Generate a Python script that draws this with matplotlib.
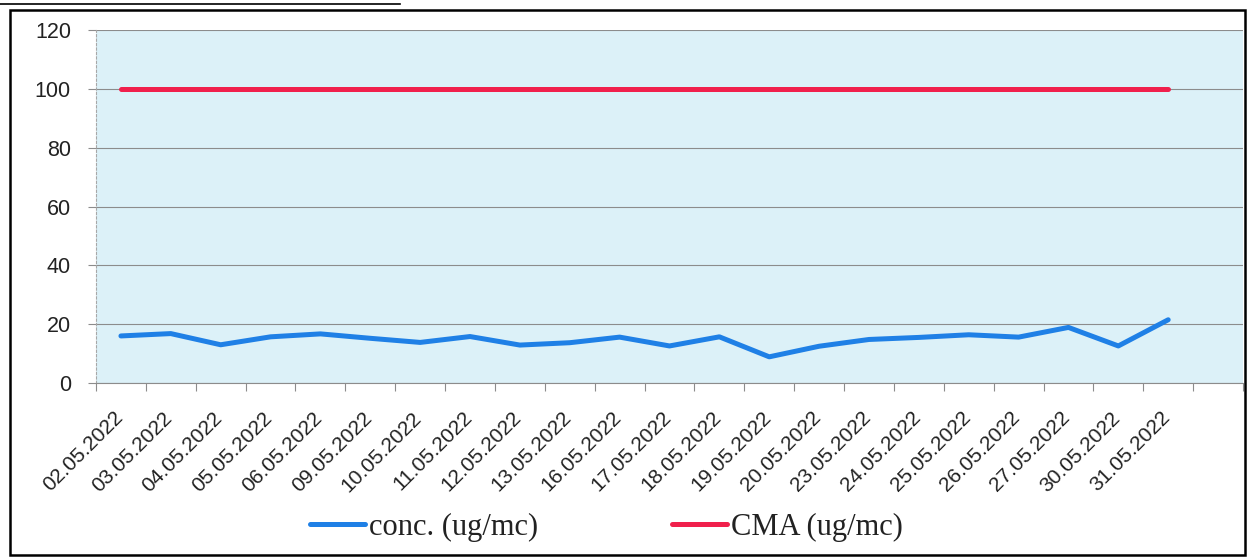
import matplotlib.pyplot as plt
import matplotlib.transforms as mtransforms
from matplotlib.patches import Rectangle
from matplotlib.lines import Line2D

dates = ['02.05.2022', '03.05.2022', '04.05.2022', '05.05.2022', '06.05.2022',
         '09.05.2022', '10.05.2022', '11.05.2022', '12.05.2022', '13.05.2022',
         '16.05.2022', '17.05.2022', '18.05.2022', '19.05.2022', '20.05.2022',
         '23.05.2022', '24.05.2022', '25.05.2022', '26.05.2022', '27.05.2022',
         '30.05.2022', '31.05.2022']
conc = [16.0, 16.8, 13.0, 15.7, 16.7, 15.2, 13.8, 15.8, 12.9, 13.7, 15.6,
        12.6, 15.7, 8.9, 12.5, 14.8, 15.5, 16.4, 15.6, 18.9, 12.6, 21.5]
cma = [100] * len(dates)
n_slots = 23  # the category axis has one empty slot at the end

fig = plt.figure(figsize=(12.5, 5.58), dpi=100)
ax = fig.add_axes([0.0768, 0.3136, 0.9176, 0.6326])
ax.set_facecolor('#dcf1f8')

x = list(range(len(dates)))
ax.plot(x, conc, color='#1f80e6', lw=3.6, solid_capstyle='round',
        label='conc. (ug/mc)')
ax.plot(x, cma, color='#f0204c', lw=3.6, solid_capstyle='round',
        label='CMA (ug/mc)')

ax.set_xlim(-0.5, n_slots - 0.5)
ax.set_ylim(0, 120)
ax.set_yticks(range(0, 121, 20))
ax.yaxis.grid(True, color='#8c8c8c', lw=0.8)
ax.set_axisbelow(True)

ax.set_xticks([i - 0.5 for i in range(n_slots + 1)], minor=True)
ax.set_xticks(x)
ax.set_xticklabels(dates, rotation=45, ha='right', va='top',
                   rotation_mode='anchor', fontsize=15,
                   family='Liberation Sans', color='#222222')
ax.tick_params(axis='x', which='major', length=0, pad=18)
ax.tick_params(axis='x', which='minor', length=6, color='#8c8c8c', width=0.8)
ax.tick_params(axis='y', length=6, color='#8c8c8c', width=0.8, pad=12,
               labelsize=15.5, labelcolor='#222222')
for lab in ax.get_yticklabels():
    lab.set_family('Liberation Sans')

# nudge the date labels a little to the left, as in the original
shift = mtransforms.ScaledTranslation(-0.08, 0, fig.dpi_scale_trans)
for lab in ax.get_xticklabels():
    lab.set_transform(lab.get_transform() + shift)

for side in ['top', 'right']:
    ax.spines[side].set_visible(False)
ax.spines['left'].set_color('#a8a8a8')
ax.spines['left'].set_linestyle((0, (2, 2)))
ax.spines['left'].set_linewidth(0.8)
ax.spines['bottom'].set_color('#8c8c8c')
ax.spines['bottom'].set_linewidth(0.8)

leg = fig.legend(loc='center', bbox_to_anchor=(0.485, 0.055), ncol=2,
                 frameon=False, handlelength=1.8, handletextpad=0.13,
                 columnspacing=4.4,
                 prop={'family': 'Liberation Serif', 'size': 22})
for t in leg.get_texts():
    t.set_color('#222222')

# outer frame of the chart and the edge of the table above it
fig.add_artist(Rectangle((0.008, 0.005), 0.988, 0.977, transform=fig.transFigure,
                         fill=False, edgecolor='black', lw=1.8))
fig.add_artist(Line2D([0.0, 0.32], [0.992, 0.992], transform=fig.transFigure,
                      color='black', lw=1.2))

fig.savefig('out.png', dpi=100)
